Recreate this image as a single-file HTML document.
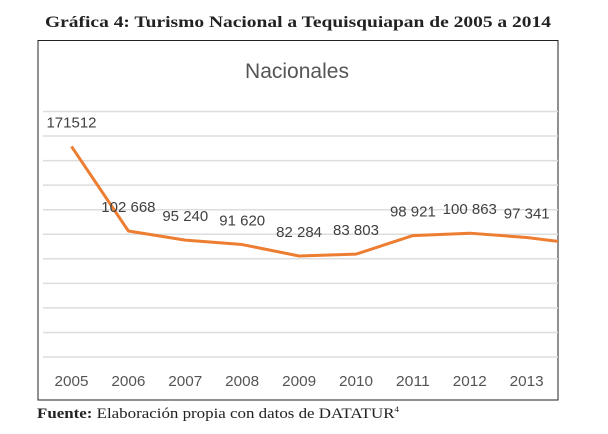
<!DOCTYPE html>
<html><head><meta charset="utf-8"><style>
html,body{margin:0;padding:0;background:#fff;}
svg{display:block;}
</style></head><body>
<svg width="608" height="434" viewBox="0 0 608 434">
<text x="298" y="27" text-anchor="middle" font-family="Liberation Serif, serif" font-weight="bold" font-size="16" fill="#222" textLength="506" lengthAdjust="spacingAndGlyphs">Gráfica 4: Turismo Nacional a Tequisquiapan de 2005 a 2014</text>
<rect x="38" y="40.5" width="520" height="359.5" fill="#fff" stroke="#222" stroke-width="1"/>
<text x="297" y="78" text-anchor="middle" font-family="Liberation Sans, sans-serif" font-size="21" fill="#555">Nacionales</text>
<g id="grid"></g>
<g id="xlabels"></g>
<defs><clipPath id="clip"><rect x="38" y="40" width="520" height="360"/></clipPath></defs>
<g clip-path="url(#clip)">
<polyline id="line" fill="none" stroke="#ED7D31" stroke-width="3" stroke-linejoin="round"/>
<g id="vlabels"></g>
</g>
<text x="37" y="418" font-family="Liberation Serif, serif" font-size="15" fill="#222" textLength="362" lengthAdjust="spacingAndGlyphs"><tspan font-weight="bold">Fuente:</tspan> Elaboración propia con datos de DATATUR<tspan font-size="8" dy="-6">4</tspan></text>
</svg>
<script>
const years = ["2005","2006","2007","2008","2009","2010","2011","2012","2013","2014"];
const values = [171512,102668,95240,91620,82284,83803,98921,100863,97341,91600];
const valueLabels = ["171512","102 668","95 240","91 620","82 284","83 803","98 921","100 863","97 341","91 600"];
const yTicks = [0,20000,40000,60000,80000,100000,120000,140000,160000,180000,200000];
const ns="http://www.w3.org/2000/svg";
function xs(i){return 71.5+i*56.9;}
function ys(v){return 357-v/200000*245.5;}
const grid=document.getElementById('grid');
yTicks.forEach(t=>{
 const l=document.createElementNS(ns,'line');
 l.setAttribute('x1',43);l.setAttribute('x2',558);
 l.setAttribute('y1',ys(t));l.setAttribute('y2',ys(t));
 l.setAttribute('stroke','#ddd');l.setAttribute('stroke-width','1.5');
 
 
 grid.appendChild(l);
});
const xl=document.getElementById('xlabels');
years.forEach((y,i)=>{
 const x=xs(i); if(x>555) return;
 const t=document.createElementNS(ns,'text');
 t.setAttribute('x',x);t.setAttribute('y',386);
 t.setAttribute('text-anchor','middle');t.setAttribute('font-family','Liberation Sans, sans-serif');
 t.setAttribute('font-size','15');t.setAttribute('fill','#555');
 t.setAttribute('textLength','34');t.setAttribute('lengthAdjust','spacingAndGlyphs');
 t.textContent=y;
 
 
 xl.appendChild(t);
});
document.getElementById('line').setAttribute('points',values.map((v,i)=>xs(i)+','+ys(v)).join(' '));
const vl=document.getElementById('vlabels');
values.forEach((v,i)=>{
 const t=document.createElementNS(ns,'text');
 t.setAttribute('x',xs(i));t.setAttribute('y',ys(v)-19);
 t.setAttribute('text-anchor','middle');t.setAttribute('font-family','Liberation Sans, sans-serif');
 t.setAttribute('font-size','15');t.setAttribute('fill','#404040');
 t.textContent=valueLabels[i];
 
 
 vl.appendChild(t);
});
</script>
</body></html>
